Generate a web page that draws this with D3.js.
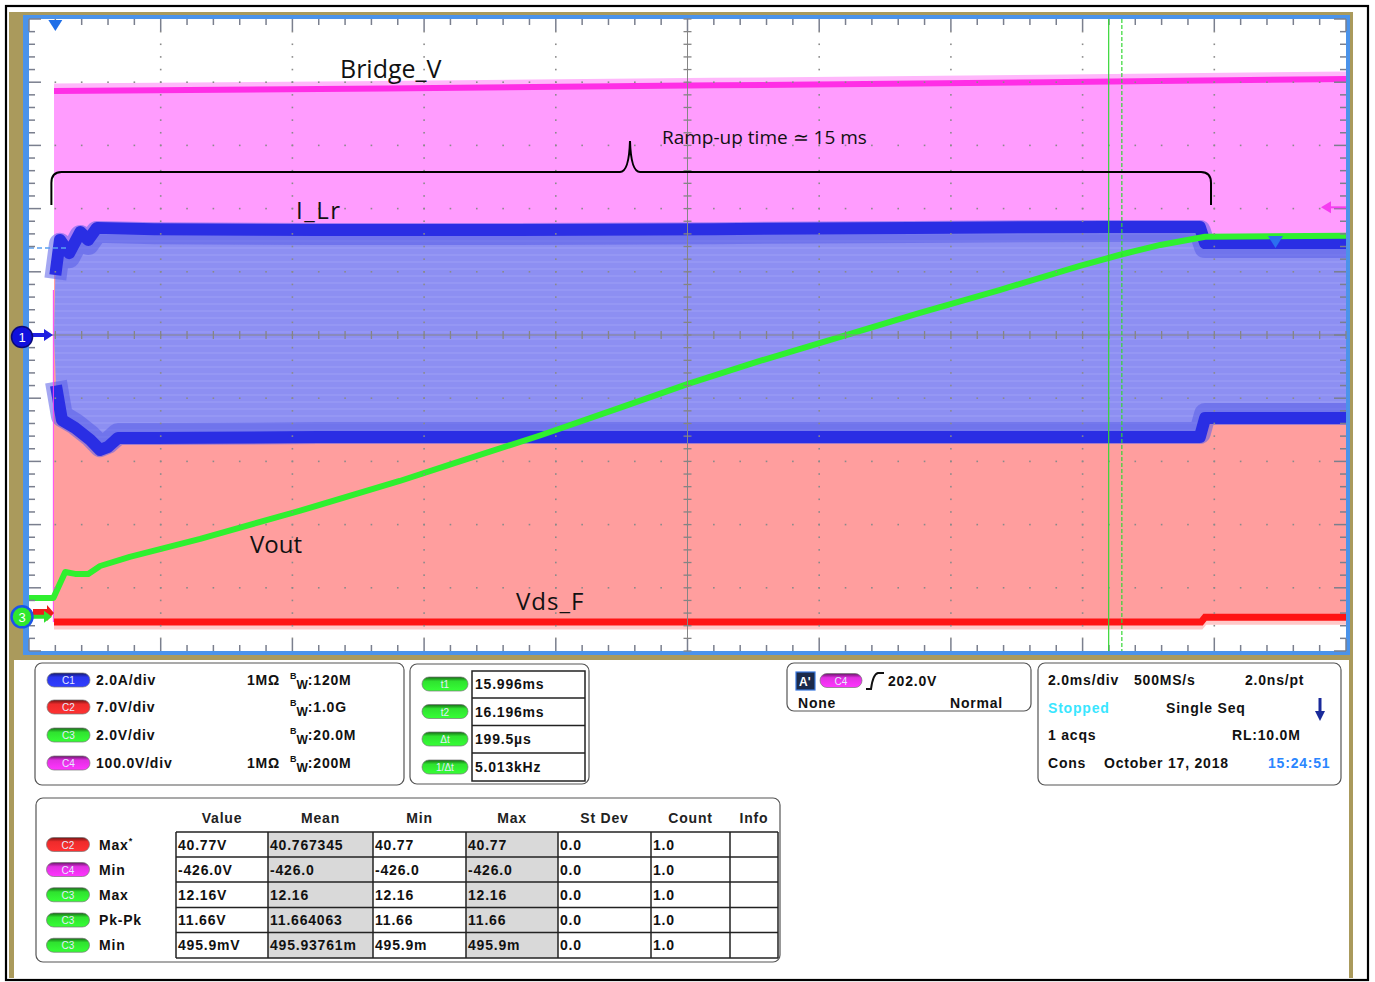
<!DOCTYPE html>
<html><head><meta charset="utf-8">
<script src="https://cdn.jsdelivr.net/npm/d3@7"></script>
<style>
html,body{margin:0;padding:0;background:#fff;}
svg{display:block;}
text{font-family:"Liberation Sans",Arial,sans-serif;}
text.ann{font-family:"Open Sans",sans-serif;}
</style></head><body>
<svg id="c" width="1375" height="982"></svg>
<script>
// ================= DATA =================
// Vout (C3) in volts vs time in ms
const voutT = [-0.40,-0.03,0.15,0.30,0.50,0.68,1.13,2.20,3.72,5.23,5.99,7.36,8.58,9.62,10.70,11.92,13.13,14.35,15.56,16.17,16.78,17.46,19.60];
const voutV = [0.60,0.60,1.42,1.36,1.36,1.61,1.90,2.47,3.36,4.30,4.82,5.74,6.62,7.38,8.10,8.86,9.62,10.35,11.11,11.46,11.77,12.03,12.06];
// I_Lr (C1) envelope in amps
const ilrUpT = [-0.02,0.00,0.07,0.21,0.38,0.50,0.63,1.50,4.00,7.00,10.00,13.00,16.00,17.38,17.46,19.60];
const ilrUpA = [0.00,1.90,3.01,2.59,3.26,3.01,3.39,3.35,3.32,3.32,3.35,3.39,3.42,3.42,2.91,2.91];
const ilrLoT = [-0.02,0.01,0.10,0.30,0.53,0.68,0.80,0.95,1.50,4.00,7.00,10.00,13.00,16.00,17.38,17.46,19.60];
const ilrLoA = [0.00,-1.60,-2.69,-2.94,-3.32,-3.64,-3.54,-3.26,-3.26,-3.23,-3.23,-3.23,-3.23,-3.23,-3.23,-2.63,-2.63];
// Bridge_V (C4) in volts
const bridgeT = [-0.02,5.0,10.0,15.0,19.6];
const bridgeHigh = [386,390,395,400,405];
const bridgeLow = [-426,-426,-426,-426,-426];
// Vds_F (C2) in volts
const vdsT = [-0.02,17.40,17.46,19.60];
const vdsLow = [-1.0,-1.0,-0.45,-0.45];
const vdsHigh = [38,38,38,38];
// cursors
const cursorTimes = [15.996,16.196];
// channel panel
const chNames = ["C1","C2","C3","C4"];
const chScale = ["2.0A/div","7.0V/div","2.0V/div","100.0V/div"];
const chImp = ["1MΩ","","","1MΩ"];
const chBw = [":120M",":1.0G",":20.0M",":200M"];
// cursor panel
const curNames = ["t1","t2","Δt","1/Δt"];
const curValues = ["15.996ms","16.196ms","199.5µs","5.013kHz"];
// measurement table
const measCols = ["Value","Mean","Min","Max","St Dev","Count","Info"];
const measCh = ["C2","C4","C3","C3","C3"];
const measNames = ["Max","Min","Max","Pk-Pk","Min"];
const measValue = ["40.77V","-426.0V","12.16V","11.66V","495.9mV"];
const measMean = ["40.767345","-426.0","12.16","11.664063","495.93761m"];
const measMin = ["40.77","-426.0","12.16","11.66","495.9m"];
const measMax = ["40.77","-426.0","12.16","11.66","495.9m"];
const measStd = ["0.0","0.0","0.0","0.0","0.0"];
const measCount = ["1.0","1.0","1.0","1.0","1.0"];

// ================= SETUP =================
const svg = d3.select("#c");
const P = {l:29, r:1346, t:19, b:651};
const x = d3.scaleLinear().domain([-0.4,19.6]).range([P.l,P.r]);
const y = d3.scaleLinear().domain([-5,5]).range([P.b,P.t]);
const conv = {
  c1: v => v/2.0,
  c2: v => v/7.0 - 4.40,
  c3: v => v/2.0 - 4.46,
  c4: v => v/100.0
};
const defs = svg.append("defs");

// ================= FRAME =================
svg.append("rect").attr("width",1375).attr("height",982).attr("fill","#fff");
svg.append("rect").attr("x",6).attr("y",6).attr("width",1362).attr("height",974)
  .attr("fill","none").attr("stroke","#000").attr("stroke-width",2.2);
svg.append("rect").attr("x",9).attr("y",12).attr("width",1344).attr("height",648).attr("fill","#aa9a5c");
svg.append("rect").attr("x",9).attr("y",650).attr("width",5).attr("height",328).attr("fill","#aa9a5c");
svg.append("rect").attr("x",1349).attr("y",650).attr("width",4).attr("height",328).attr("fill","#aa9a5c");
svg.append("rect").attr("x",14).attr("y",660).attr("width",1335).attr("height",318).attr("fill","#fff");
svg.append("rect").attr("x",23).attr("y",15).attr("width",1327).attr("height",640).attr("fill","#4b93ea");
svg.append("rect").attr("x",P.l).attr("y",P.t).attr("width",P.r-P.l).attr("height",P.b-P.t).attr("fill","#fff");

const plot = svg.append("g");
plot.append("clipPath").attr("id","pc").append("rect").attr("x",P.l).attr("y",P.t).attr("width",P.r-P.l).attr("height",P.b-P.t);
const wf = plot.append("g").attr("clip-path","url(#pc)");

const pat = defs.append("pattern").attr("id","stripes").attr("patternUnits","userSpaceOnUse").attr("width",40).attr("height",7);
pat.append("rect").attr("width",40).attr("height",7).attr("fill","#8d8ff2");
pat.append("rect").attr("y",2).attr("width",40).attr("height",2).attr("fill","#9597f4");

// ================= WAVEFORMS =================
const zip = (ts, vs) => ts.map((t,i)=>({t, v:vs[i]}));
// C4 Bridge_V
const c4area = d3.area().x(d=>x(d.t)).y0(d=>y(conv.c4(d.lo))).y1(d=>y(conv.c4(d.hi)));
const c4data = bridgeT.map((t,i)=>({t, hi:bridgeHigh[i], lo:bridgeLow[i]}));
wf.append("path").attr("d",c4area(c4data)).attr("fill","#ff9cfe");
const c4line = d3.line().x(d=>x(d.t)).y(d=>y(conv.c4(d.hi)));
wf.append("path").attr("d",c4line(c4data)).attr("fill","none").attr("stroke","#ffb8fb").attr("stroke-width",5).attr("transform","translate(0,-5)");
wf.append("path").attr("d",c4line(c4data)).attr("fill","none").attr("stroke","#ff2ee6").attr("stroke-width",6);

// C2 Vds_F
const c2data = vdsT.map((t,i)=>({t, hi:vdsHigh[i], lo:vdsLow[i]}));
const c2area = d3.area().x(d=>x(d.t)).y0(d=>y(conv.c2(d.lo))).y1(d=>y(conv.c2(d.hi)));
wf.append("path").attr("d",c2area(c2data)).attr("fill","#ff9e9e");
const c2line = d3.line().x(d=>x(d.t)).y(d=>y(conv.c2(d.lo)));
wf.append("path").attr("d",c2line(c2data)).attr("fill","none").attr("stroke","#ffc8c8").attr("stroke-width",5).attr("transform","translate(0,5)");
wf.append("path").attr("d",c2line(c2data)).attr("fill","none").attr("stroke","#ff1414").attr("stroke-width",7);

// C1 I_Lr
const up = zip(ilrUpT, ilrUpA), lo = zip(ilrLoT, ilrLoA);
const c1line = d3.line().x(d=>x(d.t)).y(d=>y(conv.c1(d.v)));
wf.append("path").attr("d",c1line(up.concat(lo.slice().reverse()))+"Z").attr("fill","url(#stripes)");
[up.slice(1), lo.slice(1)].forEach((arr,k)=>{
  wf.append("path").attr("d",c1line(arr)).attr("fill","none").attr("stroke","#5a5ee8").attr("stroke-opacity",0.55)
    .attr("stroke-width",22).attr("stroke-linejoin","round").attr("transform",`translate(0,${k?-4:4})`);
  wf.append("path").attr("d",c1line(arr)).attr("fill","none").attr("stroke","#2a2ee4").attr("stroke-width",12).attr("stroke-linejoin","round");
});
wf.append("line").attr("x1",P.l).attr("x2",x(0.2)).attr("y1",y(conv.c1(2.75))).attr("y2",y(conv.c1(2.75)))
  .attr("stroke","#5aa0f0").attr("stroke-width",1.5).attr("stroke-dasharray","5,3");
wf.append("line").attr("x1",x(-0.03)).attr("x2",x(-0.03)).attr("y1",290).attr("y2",y(conv.c2(-1))).attr("stroke","#ff40ee").attr("stroke-width",1);

// C3 Vout
const c3line = d3.line().x(d=>x(d.t)).y(d=>y(conv.c3(d.v)));
wf.append("path").attr("d",c3line(zip(voutT,voutV))).attr("fill","none")
  .attr("stroke","#2ff02f").attr("stroke-width",6).attr("stroke-linejoin","round");

// ================= GRATICULE =================
const gr = plot.append("g");
const divX = d3.range(0,11).map(i=>-0.4+2*i);
const minX = d3.range(0,51).map(i=>-0.4+0.4*i);
const divY = d3.range(-5,6);
const minY = d3.range(0,51).map(i=>-5+0.2*i);
const dotC = "#8a8a8a";
divX.slice(1,-1).forEach((t,i)=>{ if(i===4) return;
  minY.slice(1,-1).forEach(v=>gr.append("rect").attr("x",x(t)-0.8).attr("y",y(v)-0.8).attr("width",1.6).attr("height",1.6).attr("fill",dotC));
});
divY.slice(1,-1).forEach(v=>{ if(v===0) return;
  minX.slice(1,-1).forEach(t=>gr.append("rect").attr("x",x(t)-0.8).attr("y",y(v)-0.8).attr("width",1.6).attr("height",1.6).attr("fill",dotC));
});
gr.append("line").attr("x1",P.l).attr("x2",P.r).attr("y1",y(0)).attr("y2",y(0)).attr("stroke","#858585").attr("stroke-width",1);
gr.append("line").attr("x1",x(9.6)).attr("x2",x(9.6)).attr("y1",P.t).attr("y2",P.b).attr("stroke","#858585").attr("stroke-width",1);
minX.forEach(t=>gr.append("line").attr("x1",x(t)).attr("x2",x(t)).attr("y1",y(0)-4).attr("y2",y(0)+4).attr("stroke","#858585").attr("stroke-width",1.3));
minY.forEach(v=>gr.append("line").attr("x1",x(9.6)-4).attr("x2",x(9.6)+4).attr("y1",y(v)).attr("y2",y(v)).attr("stroke","#858585").attr("stroke-width",1.3));
const tickC = "#7a7f8e";
minX.forEach((t,i)=>{ const L = (i%5===0)?12:6;
  gr.append("line").attr("x1",x(t)).attr("x2",x(t)).attr("y1",P.t).attr("y2",P.t+L).attr("stroke",tickC).attr("stroke-width",1.5);
  gr.append("line").attr("x1",x(t)).attr("x2",x(t)).attr("y1",P.b).attr("y2",P.b-L).attr("stroke",tickC).attr("stroke-width",1.5);
});
minY.forEach((v,i)=>{ const L = (i%5===0)?12:6;
  gr.append("line").attr("x1",P.l).attr("x2",P.l+L).attr("y1",y(v)).attr("y2",y(v)).attr("stroke",tickC).attr("stroke-width",1.5);
  gr.append("line").attr("x1",P.r).attr("x2",P.r-L).attr("y1",y(v)).attr("y2",y(v)).attr("stroke",tickC).attr("stroke-width",1.5);
});

cursorTimes.forEach((t,i)=>{
  plot.append("line").attr("x1",x(t)).attr("x2",x(t)).attr("y1",P.t).attr("y2",P.b)
    .attr("stroke","#35d835").attr("stroke-width",1.2).attr("stroke-dasharray",i?"4,2":null);
});

// ================= ANNOTATIONS =================
const ann = plot.append("g").attr("fill","#111");
ann.append("text").attr("class","ann").attr("x",340).attr("y",78).attr("font-size",25).text("Bridge_V");
ann.append("text").attr("class","ann").attr("x",662).attr("y",144).attr("font-size",19).text("Ramp-up time ≃ 15 ms");
ann.append("text").attr("class","ann").attr("x",296).attr("y",219).attr("font-size",24).style("letter-spacing","1.5px").text("I_Lr");
ann.append("text").attr("class","ann").attr("x",250).attr("y",553).attr("font-size",24).text("Vout");
ann.append("text").attr("class","ann").attr("x",516).attr("y",610).attr("font-size",24).style("letter-spacing","1px").text("Vds_F");
const bx0 = x(-0.06), bx1 = x(17.55), bm = 630, by = 172;
plot.append("path").attr("d",`M${bx0},205 L${bx0},183 Q${bx0},${by} ${bx0+10},${by} L${bm-10},${by} Q${bm-1},${by} ${bm},141 Q${bm+1},${by} ${bm+10},${by} L${bx1-10},${by} Q${bx1},${by} ${bx1},183 L${bx1},205`)
  .attr("fill","none").attr("stroke","#000").attr("stroke-width",2);

// ================= MARKERS =================
plot.append("path").attr("d",`M${x(0)-7},${P.t+1} L${x(0)+7},${P.t+1} L${x(0)},${P.t+12} Z`).attr("fill","#1f6fe8");
const tl = y(conv.c4(202));
plot.append("path").attr("d",`M${P.r-25},${tl} L${P.r-15},${tl-6} L${P.r-15},${tl+6} Z`).attr("fill","#f53cf0");
plot.append("line").attr("x1",P.r-16).attr("x2",P.r).attr("y1",tl).attr("y2",tl).attr("stroke","#f53cf0").attr("stroke-width",2);
plot.append("path").attr("d",`M1268,236 L1283,236 L1275.5,248 Z`).attr("fill","#2b6ff0");
const g2 = y(conv.c2(0));
plot.append("path").attr("d",`M33,${g2-4} L47,${g2-4} L47,${g2-8} L54,${g2} L47,${g2+8} L47,${g2+4} L33,${g2+4} Z`).attr("fill","#ee1c1c");
const g3 = y(conv.c3(0));
plot.append("path").attr("d",`M31,${g3-2} L44,${g3-2} L44,${g3-6} L52,${g3} L44,${g3+6} L44,${g3+2} L31,${g3+2} Z`).attr("fill","#2fe02f");
plot.append("circle").attr("cx",22).attr("cy",g3).attr("r",10.5).attr("fill","#2ee82e").attr("stroke","#1a55e8").attr("stroke-width",2.5);
plot.append("text").attr("x",22).attr("y",g3+5).attr("text-anchor","middle").attr("font-size",13).attr("fill","#fff").text("3");
const g1 = y(conv.c1(0));
plot.append("path").attr("d",`M31,${g1-2} L44,${g1-2} L44,${g1-6} L53,${g1} L44,${g1+6} L44,${g1+2} L31,${g1+2} Z`).attr("fill","#2020e0");
plot.append("circle").attr("cx",22).attr("cy",g1+2).attr("r",10.5).attr("fill","#1010dd").attr("stroke","#0a0a7a").attr("stroke-width",1.5);
plot.append("text").attr("x",22).attr("y",g1+7).attr("text-anchor","middle").attr("font-size",13).attr("fill","#fff").text("1");

// ================= PANELS =================
const chColor = {C1:"#2a36ee", C2:"#ee2b2b", C3:"#2fe22f", C4:"#e22fe2"};
Object.entries(chColor).forEach(([k,c])=>{
  const gd = defs.append("linearGradient").attr("id","gb"+k).attr("x1",0).attr("y1",0).attr("x2",0).attr("y2",1);
  gd.append("stop").attr("offset","0").attr("stop-color",d3.color(c).darker(2.2));
  gd.append("stop").attr("offset","0.3").attr("stop-color",c);
  gd.append("stop").attr("offset","1").attr("stop-color",d3.color(c).brighter(0.4));
});
function badge(g, cx, cy, w, ch, label){
  g.append("rect").attr("x",cx-w/2).attr("y",cy-7).attr("width",w).attr("height",14).attr("rx",7)
    .attr("fill",`url(#gb${ch})`).attr("stroke","#777").attr("stroke-width",0.7);
  g.append("text").attr("x",cx).attr("y",cy+4).attr("text-anchor","middle").attr("font-size",10).attr("font-weight","normal").style("letter-spacing","0").attr("fill","#e6ecff").text(label);
}
const pan = svg.append("g").attr("font-weight","bold").attr("font-size",14).style("letter-spacing","0.8px").attr("fill","#111");
function box(x0,y0,x1,y1){ pan.append("rect").attr("x",x0).attr("y",y0).attr("width",x1-x0).attr("height",y1-y0).attr("rx",7).attr("fill","#fff").attr("stroke","#555").attr("stroke-width",1.2); }

box(35,663,404,785);
const chY = [680,707,735,763];
chNames.forEach((c,i)=>{
  badge(pan,68.5,chY[i],43,c,c);
  pan.append("text").attr("x",96).attr("y",chY[i]+5).text(chScale[i]);
  if(chImp[i]) pan.append("text").attr("x",247).attr("y",chY[i]+5).text(chImp[i]);
  const bw = pan.append("text").attr("x",290).attr("y",chY[i]+5).style("letter-spacing","0");
  bw.append("tspan").attr("font-size",9).attr("dy",-6).text("B");
  bw.append("tspan").attr("font-size",12).attr("dy",10).text("W");
  bw.append("tspan").attr("font-size",14).attr("dy",-4).style("letter-spacing","0.8px").text(chBw[i]);
});

box(410,664,589,784);
const cy = [684,711.5,739,767];
const cyB = [671,698,725.5,753,781];
curNames.forEach((n,i)=>{
  badge(pan,445,cy[i],46,"C3",n);
  pan.append("text").attr("x",475).attr("y",cy[i]+5).text(curValues[i]);
});
pan.append("rect").attr("x",472).attr("y",cyB[0]).attr("width",113).attr("height",cyB[4]-cyB[0]).attr("fill","none").attr("stroke","#222").attr("stroke-width",1.5);
cyB.slice(1,4).forEach(v=>pan.append("line").attr("x1",472).attr("x2",585).attr("y1",v).attr("y2",v).attr("stroke","#222").attr("stroke-width",1.5));

box(787,663,1031,711);
pan.append("rect").attr("x",796).attr("y",672).attr("width",19).attr("height",18).attr("fill","#1b2a4a").attr("stroke","#3a78e0").attr("stroke-width",1.2);
pan.append("text").attr("x",799).attr("y",686).attr("fill","#fff").attr("font-size",12).style("letter-spacing","0").text("A'");
badge(pan,841,680.5,42,"C4","C4");
pan.append("path").attr("d","M866,689 L871,689 Q873,674 878,673 L884,673").attr("fill","none").attr("stroke","#111").attr("stroke-width",2);
pan.append("text").attr("x",888).attr("y",686).text("202.0V");
pan.append("text").attr("x",798).attr("y",708).text("None");
pan.append("text").attr("x",950).attr("y",708).text("Normal");

box(1038,663,1341,785);
pan.append("text").attr("x",1048).attr("y",685).text("2.0ms/div");
pan.append("text").attr("x",1134).attr("y",685).text("500MS/s");
pan.append("text").attr("x",1245).attr("y",685).text("2.0ns/pt");
pan.append("text").attr("x",1048).attr("y",713).attr("fill","#39e6ff").text("Stopped");
pan.append("text").attr("x",1166).attr("y",713).text("Single Seq");
pan.append("line").attr("x1",1320).attr("x2",1320).attr("y1",698).attr("y2",714).attr("stroke","#1a2a9a").attr("stroke-width",3);
pan.append("path").attr("d","M1315,711 L1325,711 L1320,721 Z").attr("fill","#1a2a9a");
pan.append("text").attr("x",1048).attr("y",740).text("1 acqs");
pan.append("text").attr("x",1232).attr("y",740).text("RL:10.0M");
pan.append("text").attr("x",1048).attr("y",768).text("Cons");
pan.append("text").attr("x",1104).attr("y",768).text("October 17, 2018");
pan.append("text").attr("x",1268).attr("y",768).attr("fill","#2a86ff").text("15:24:51");

box(36,798,780,962);
const colX = [176,268,373,466,558,651,730,778];
const rowY = [832,857,882,907.5,932.5,958];
[1,3].forEach(c=>pan.append("rect").attr("x",colX[c]).attr("y",rowY[0]).attr("width",colX[c+1]-colX[c]).attr("height",rowY[5]-rowY[0]).attr("fill","#d9d9d9"));
measCols.forEach((h,i)=>pan.append("text").attr("x",(colX[i]+colX[i+1])/2).attr("y",823).attr("text-anchor","middle").attr("fill","#222").text(h));
const cols = [measValue,measMean,measMin,measMax,measStd,measCount];
measNames.forEach((n,r)=>{
  const cyR = (rowY[r]+rowY[r+1])/2;
  badge(pan,68,cyR,43,measCh[r],measCh[r]);
  const t = pan.append("text").attr("x",99).attr("y",cyR+5).text(n);
  if(r===0) t.append("tspan").attr("font-size",9).attr("dy",-6).text("*");
  cols.forEach((arr,c)=>pan.append("text").attr("x",colX[c]+2).attr("y",cyR+5).text(arr[r]));
});
colX.forEach(v=>pan.append("line").attr("x1",v).attr("x2",v).attr("y1",rowY[0]).attr("y2",rowY[5]).attr("stroke","#222").attr("stroke-width",1.5));
rowY.forEach(v=>pan.append("line").attr("x1",colX[0]).attr("x2",colX[7]).attr("y1",v).attr("y2",v).attr("stroke","#222").attr("stroke-width",1.5));
</script></body></html>
